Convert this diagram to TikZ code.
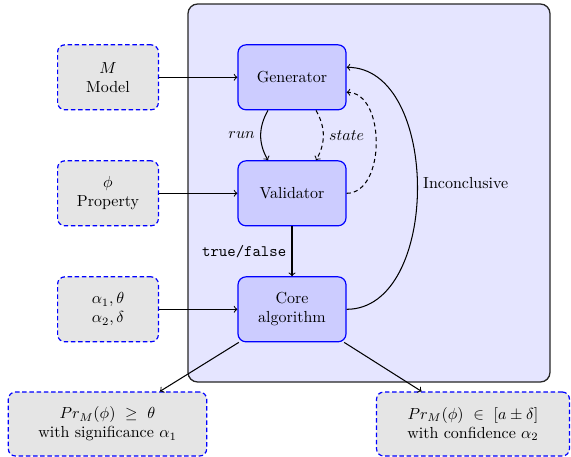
\documentclass[tikz,border=0pt]{standalone}
\usetikzlibrary{calc}
\begin{document}
\begin{tikzpicture}[x=0.625pt,y=0.625pt,
  panel/.style={draw=black!85, line width=0.8pt, fill=blue!10, rounded corners=6pt,
    minimum width=226.25pt, minimum height=236.25pt},
  procbox/.style={draw=blue, line width=0.75pt, fill=blue!20, rounded corners=5pt,
    minimum width=67.5pt, minimum height=40.6pt, align=center},
  inbox/.style={draw=blue, line width=0.75pt, dash pattern=on 2.8pt off 1.7pt,
    fill=gray!20, rounded corners=4.5pt, minimum width=63pt, minimum height=40.6pt,
    align=center},
  outbox/.style={inbox, minimum height=40pt},
  conn/.style={->, line width=0.65pt},
  dconn/.style={conn, dash pattern=on 2.6pt off 2pt}]
\useasboundingbox (0,0) rectangle (571,-456);

% background frame of the tool
\node[panel] (frame) at (369,-193) {};

% internal components
\node[procbox] (gen)  at (292,-77.3)  {Generator};
\node[procbox] (val)  at (292,-193.3) {Validator};
\node[procbox] (core) at (292,-309.3) {Core\\algorithm};

% inputs
\node[inbox] (model) at (108,-77.3)  {$M$\\Model};
\node[inbox] (prop)  at (108,-193.3) {$\phi$\\Property};
\node[inbox] (par)   at (108,-309.3) {$\alpha_1,\theta$\\$\alpha_2,\delta$};

% outputs
\node[outbox, minimum width=124pt]   (hyp) at (107.5,-424)
  {$Pr_M(\phi)\ \geq\ \theta$\\with significance $\alpha_1$};
\node[outbox, minimum width=120.6pt] (est) at (473,-424)
  {$Pr_M(\phi)\ \in\ [a \pm \delta]$\\with confidence $\alpha_2$};

% input connectors
\draw[conn] (model) -- (gen);
\draw[conn] (prop)  -- (val);
\draw[conn] (par)   -- (core);

% generator / validator loop
\draw[conn]  ($(gen.south)+(-24,0)$) to[bend right] node[left]{$run$}   ($(val.north)+(-24,0)$);
\draw[dconn] ($(gen.south)+(24,0)$)  to[bend left]  node[right]{$state$} ($(val.north)+(24,0)$);
\draw[dconn] (val.east) to[out=0,in=0] ($(gen.east)+(0,-15)$);

% validator result
\draw[conn] (val) -- node[left]{\texttt{true/false}} (core);

% retry loop
\draw[conn] (core.east) to[out=0,in=0] node[right, yshift=3pt]{Inconclusive} ($(gen.east)+(0,10)$);

% results
\draw[conn] (core) -- (hyp);
\draw[conn] (core) -- (est);
\end{tikzpicture}
\end{document}
